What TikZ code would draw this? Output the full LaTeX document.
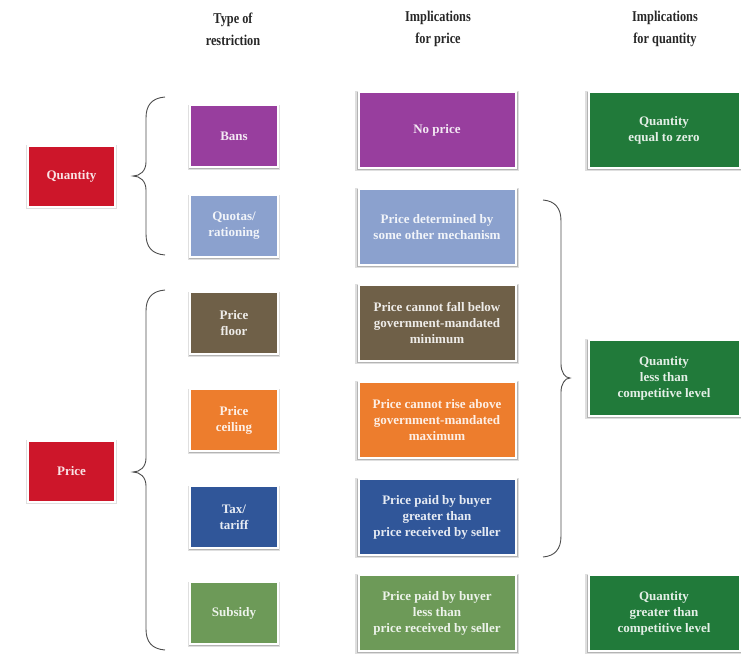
\documentclass[tikz,border=0pt]{standalone}
\usepackage{fontspec}
\setmainfont{Liberation Serif}
\newfontfamily\hdrfont[FakeStretch=0.82]{Liberation Serif}
\usetikzlibrary{shadows}
\definecolor{qred}{RGB}{205,22,42}
\definecolor{purp}{RGB}{152,62,158}
\definecolor{lblue}{RGB}{139,161,206}
\definecolor{brwn}{RGB}{111,96,72}
\definecolor{orng}{RGB}{237,125,45}
\definecolor{dblue}{RGB}{48,86,153}
\definecolor{lgreen}{RGB}{109,154,88}
\definecolor{dgreen}{RGB}{33,122,58}
\tikzset{
  box/.style={draw=white, line width=2pt, fill=#1, text=white!88!#1, align=center, inner sep=2pt,
    font=\bfseries\fontsize{13}{16}\selectfont,
    general shadow={shadow xshift=0pt, shadow yshift=-1pt, shadow scale=1.05, opacity=0.18, fill=black!70},
    drop shadow={shadow xshift=0.3pt, shadow yshift=-1pt, shadow scale=1.025, opacity=0.35, fill=black!60}},
  cA/.style={box=#1, minimum width=87pt, minimum height=61pt},
  cB/.style={box=#1, minimum width=88pt, minimum height=62pt},
  cC/.style={box=#1, minimum width=157pt, minimum height=76pt},
  cD/.style={box=#1, minimum width=151pt, minimum height=76pt},
  hdr/.style={align=center, text=black!85, font=\hdrfont\bfseries\fontsize{15}{22}\selectfont},
  bracel/.style={draw=black!70, line width=0.9pt}
}
\begin{document}
\begin{tikzpicture}[x=1pt,y=-1pt]
\useasboundingbox (0,0) rectangle (741,654);
% headers
\node[hdr] (h1) at (233,29) {Type of\\restriction};
\node[hdr] (h2) at (438,29) {Implications\\for price};
\node[hdr] (h3) at (665,29) {Implications\\for quantity};
% column 1
\node[cA=qred] (qty) at (71.5,176) {Quantity};
\node[cA=qred] (prc) at (71.5,471) {Price};
% column 2
\node[cB=purp] (bans) at (234,136) {Bans};
\node[cB=lblue] (quot) at (234,226) {Quotas/\\rationing};
\node[cB=brwn] (floor) at (234,323) {Price\\floor};
\node[cB=orng] (ceil) at (234,420) {Price\\ceiling};
\node[cB=dblue] (tax) at (234,517) {Tax/\\tariff};
\node[cB=lgreen] (subs) at (234,613) {Subsidy};
% column 3
\node[cC=purp] (noprice) at (437,130) {No price};
\node[cC=lblue] (pdet) at (437,227) {Price determined by\\some other mechanism};
\node[cC=brwn] (pfl) at (437,323) {Price cannot fall below\\government-mandated\\minimum};
\node[cC=orng] (pce) at (437,420) {Price cannot rise above\\government-mandated\\maximum};
\node[cC=dblue] (ptx) at (437,517) {Price paid by buyer\\greater than\\price received by seller};
\node[cC=lgreen] (psb) at (437,613) {Price paid by buyer\\less than\\price received by seller};
% column 4
\node[cD=dgreen] (qz) at (664,130) {Quantity\\equal to zero};
\node[cD=dgreen] (ql) at (664,378) {Quantity\\less than\\competitive level};
\node[cD=dgreen] (qg) at (664,613) {Quantity\\greater than\\competitive level};
% braces
\draw[bracel] (165,97) .. controls (152,98) and (146,105) .. (146,118) -- (146,162)
  .. controls (146,171) and (140,176) .. (133,176) .. controls (140,176) and (146,181) .. (146,190)
  -- (146,234) .. controls (146,247) and (152,254) .. (165,255);
\draw[bracel] (165,290) .. controls (152,291) and (146,298) .. (146,311) -- (146,458)
  .. controls (146,467) and (140,472) .. (133,472) .. controls (140,472) and (146,477) .. (146,486)
  -- (146,629) .. controls (146,642) and (152,649) .. (165,650);
\draw[bracel] (543,200) .. controls (555,201) and (561,208) .. (561,221) -- (561,364)
  .. controls (561,372) and (565,378) .. (570,378) .. controls (565,378) and (561,384) .. (561,392)
  -- (561,536) .. controls (561,549) and (555,556) .. (543,557);
\end{tikzpicture}
\end{document}
